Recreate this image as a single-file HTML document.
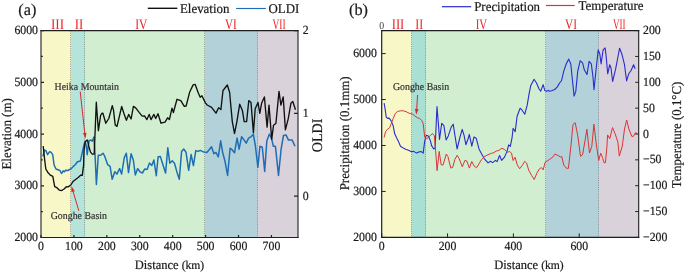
<!DOCTYPE html><html><head><meta charset="utf-8"><style>
html,body{margin:0;padding:0;background:#fff;}
svg{display:block;font-family:"Liberation Serif",serif;will-change:transform;text-rendering:geometricPrecision;}
</style></head><body>
<svg width="685" height="273" viewBox="0 0 685 273">
<rect x="41.0" y="30.6" width="30.00" height="206.9" fill="#f8f7c8"/>
<rect x="71" y="30.6" width="14.00" height="206.9" fill="#b5e5da"/>
<rect x="85" y="30.6" width="120.00" height="206.9" fill="#d1eed0"/>
<rect x="205" y="30.6" width="53.00" height="206.9" fill="#b3d1d9"/>
<rect x="258" y="30.6" width="40.00" height="206.9" fill="#d9d2db"/>
<line x1="70.5" y1="30.6" x2="70.5" y2="237.5" stroke="#8c8c8c" stroke-width="0.9" stroke-dasharray="1,1.2"/>
<line x1="84.5" y1="30.6" x2="84.5" y2="237.5" stroke="#8c8c8c" stroke-width="0.9" stroke-dasharray="1,1.2"/>
<line x1="204.5" y1="30.6" x2="204.5" y2="237.5" stroke="#8c8c8c" stroke-width="0.9" stroke-dasharray="1,1.2"/>
<line x1="257.5" y1="30.6" x2="257.5" y2="237.5" stroke="#8c8c8c" stroke-width="0.9" stroke-dasharray="1,1.2"/>
<rect x="381.7" y="30.6" width="29.80" height="206.8" fill="#f8f7c8"/>
<rect x="411.5" y="30.6" width="14.50" height="206.8" fill="#a8e0d3"/>
<rect x="426" y="30.6" width="120.00" height="206.8" fill="#d1eed0"/>
<rect x="546" y="30.6" width="53.00" height="206.8" fill="#b3d1d9"/>
<rect x="599" y="30.6" width="39.70" height="206.8" fill="#d9d2db"/>
<line x1="411.5" y1="30.6" x2="411.5" y2="237.4" stroke="#8c8c8c" stroke-width="0.9" stroke-dasharray="1,1.2"/>
<line x1="425.5" y1="30.6" x2="425.5" y2="237.4" stroke="#8c8c8c" stroke-width="0.9" stroke-dasharray="1,1.2"/>
<line x1="545.5" y1="30.6" x2="545.5" y2="237.4" stroke="#8c8c8c" stroke-width="0.9" stroke-dasharray="1,1.2"/>
<line x1="598.5" y1="30.6" x2="598.5" y2="237.4" stroke="#8c8c8c" stroke-width="0.9" stroke-dasharray="1,1.2"/>
<polyline points="42.9,156.4 44.5,150.0 45.9,150.6 47.6,154.7 49.4,151.8 51.1,152.3 52.7,154.7 54.1,165.0 56.0,169.0 59.9,170.5 61.5,173.5 63.1,170.9 64.4,171.8 65.6,170.3 67.6,170.5 70.8,169.0 73.3,166.4 75.2,164.7 77.5,161.7 80.4,161.1 82.2,152.9 84.0,144.7 85.1,141.2 86.3,145.9 87.2,154.7 88.1,147.1 89.2,140.6 91.0,140.0 92.2,141.2 93.9,137.1 94.8,149.7 96.4,184.4 98.3,155.2 100.7,155.2 103.0,153.2 104.6,156.0 107.7,164.7 110.1,166.3 112.2,179.3 114.8,171.8 116.9,174.1 119.6,168.6 121.6,174.1 124.3,157.6 126.3,153.2 128.5,172.6 131.1,153.7 133.3,160.0 135.3,174.9 137.7,168.6 140.0,171.8 142.4,173.0 144.8,168.9 147.1,169.4 149.5,163.1 151.8,165.5 153.9,160.0 156.3,175.7 158.1,156.8 160.4,156.6 161.9,161.6 165.6,173.0 167.8,147.8 169.8,163.2 172.2,160.8 174.5,163.2 176.9,171.9 179.3,179.3 181.6,151.4 183.7,149.0 186.0,152.2 188.7,170.3 191.1,154.5 193.4,165.6 195.8,150.6 198.2,151.4 200.2,150.3 202.9,151.7 206.8,152.5 209.2,149.8 211.5,146.7 213.9,153.7 216.0,152.5 218.3,156.9 220.7,140.8 222.6,152.2 225.0,161.3 227.6,175.4 230.1,148.2 232.5,150.2 234.5,152.8 237.1,138.1 239.1,149.2 241.6,136.7 244.2,140.1 246.2,143.1 248.6,138.1 251.2,136.7 253.3,134.1 255.3,145.2 257.9,167.3 259.9,146.2 262.3,147.2 264.7,171.4 266.8,141.1 269.4,134.1 271.4,138.1 273.4,146.2 275.4,146.2 278.5,175.4 281.1,149.2 283.5,135.5 286.1,135.1 288.5,140.1 292.2,140.1 295.0,146.2" fill="none" stroke="#1f6eb5" stroke-width="1.5" stroke-linejoin="round"/>
<polyline points="43.2,146.1 43.8,151.8 44.7,160.0 45.8,169.0 47.7,172.2 50.3,175.1 52.8,176.4 54.7,186.7 56.7,187.6 59.2,190.1 61.8,190.5 64.4,188.8 66.3,186.7 68.2,186.9 70.8,185.0 73.3,181.2 75.9,179.2 78.5,177.3 80.8,175.1 82.3,175.4 83.6,165.1 84.0,150.6 85.1,142.4 86.3,140.6 87.5,140.0 88.7,145.9 90.4,151.8 92.2,154.1 94.2,154.1 96.3,102.2 98.4,130.7 100.6,115.5 101.7,113.5 102.9,113.2 105.8,123.2 108.8,118.5 112.3,105.6 113.5,110.2 115.2,124.9 117.0,126.4 121.7,106.5 124.0,113.8 126.4,120.2 128.7,114.4 129.9,116.7 131.1,119.0 133.4,106.4 135.7,107.9 139.3,112.6 142.2,116.1 144.5,115.9 146.9,119.6 149.2,114.4 151.0,119.6 153.9,114.4 155.7,118.5 158.0,113.8 161.0,123.2 165.0,122.2 167.6,117.8 169.4,119.6 172.0,108.1 173.4,112.5 177.0,99.3 180.8,100.7 184.3,106.4 186.1,106.0 189.6,92.3 193.1,84.9 195.2,84.4 198.4,93.2 200.2,97.2 201.9,95.8 205.4,102.9 207.2,105.0 211.6,107.3 216.0,113.1 218.6,107.8 220.9,109.5 223.0,90.5 225.0,88.0 227.3,85.0 229.6,92.3 232.3,121.6 234.5,133.5 236.9,121.6 239.7,104.2 242.4,110.6 244.2,121.6 246.6,121.6 248.8,100.6 251.0,102.4 253.4,132.6 255.2,108.8 258.0,102.4 259.8,113.4 261.6,103.3 264.4,96.9 267.1,127.1 269.0,105.1 271.7,139.3 273.5,125.3 275.9,123.5 279.0,91.4 280.9,105.1 283.2,96.9 285.4,129.9 288.2,118.9 290.9,103.3 292.8,101.5 295.5,109.7" fill="none" stroke="#111" stroke-width="1.35" stroke-linejoin="round"/>
<polyline points="384.1,103.1 385.1,108.9 386.2,117.0 387.6,118.4 389.1,118.1 391.0,120.6 393.2,125.8 394.7,133.8 396.8,138.2 398.3,141.1 400.5,146.2 403.4,148.1 405.6,149.2 408.6,150.2 411.5,151.8 413.7,151.4 416.6,153.1 418.8,152.1 421.0,151.4 423.2,153.1 424.7,141.1 426.2,135.3 428.4,136.0 430.5,141.1 431.5,145.4 433.7,149.0 435.1,148.3 437.0,106.6 438.8,129.3 439.5,139.5 441.7,123.4 443.9,125.6 446.1,140.0 448.3,135.9 451.2,127.1 453.2,124.2 454.9,135.2 457.1,149.0 460.0,137.0 462.2,129.3 464.0,135.2 465.9,144.7 468.1,138.8 469.3,134.4 471.8,146.1 474.0,137.0 476.2,138.2 479.0,148.9 481.5,153.8 484.4,158.8 488.1,162.9 490.5,161.2 492.7,162.6 495.5,160.4 497.1,161.6 499.6,155.5 501.6,160.4 504.5,157.1 507.0,151.4 508.7,144.8 510.3,146.4 512.0,138.2 513.1,128.3 515.2,131.6 517.1,116.3 520.1,108.2 522.1,110.2 524.8,114.2 527.2,105.2 529.2,93.1 530.8,85.4 534.1,79.3 536.5,83.0 539.0,88.7 540.7,91.2 543.1,84.6 544.8,90.4 546.4,91.2 548.1,90.4 549.7,91.2 552.2,90.4 554.7,89.5 557.1,87.1 559.6,83.0 561.6,80.5 563.7,71.4 566.2,64.0 568.7,59.1 570.8,64.0 572.4,79.7 574.1,96.1 575.8,91.4 577.7,71.4 580.2,60.7 582.7,63.2 584.3,69.8 587.0,74.6 589.1,61.4 591.3,63.9 592.9,76.2 594.0,89.7 595.7,73.0 598.2,49.9 599.8,54.0 601.1,63.9 603.1,49.9 605.1,47.9 606.1,55.7 607.7,73.8 609.7,64.7 611.0,68.0 612.6,81.5 615.5,69.7 618.0,56.5 619.6,48.2 622.1,54.8 624.5,64.7 626.6,80.9 628.7,73.8 631.1,70.5 633.6,64.7 635.2,68.8" fill="none" stroke="#2b2bcc" stroke-width="1.1" stroke-linejoin="round"/>
<polyline points="384.1,137.5 385.6,131.6 387.3,129.4 389.5,127.9 391.0,124.3 393.2,118.4 395.4,113.3 397.6,111.4 400.5,110.8 403.4,110.8 406.4,111.8 409.3,113.3 412.2,114.0 414.4,115.5 417.4,117.7 419.6,118.4 421.8,120.6 423.2,123.6 424.7,137.0 426.2,138.9 428.4,137.5 430.5,135.3 432.5,133.5 434.4,135.9 435.6,150.5 437.1,170.6 439.2,151.4 441.2,164.9 443.1,164.9 446.3,154.0 447.9,156.5 450.8,168.1 452.7,167.4 454.9,159.3 457.2,155.3 459.1,158.5 462.3,166.8 464.9,160.4 466.8,161.0 469.4,168.1 471.8,161.5 474.0,165.9 476.5,167.8 479.0,163.7 481.5,159.6 484.8,156.3 488.1,154.7 491.4,153.3 493.8,152.7 496.3,151.0 498.8,150.5 501.9,148.2 504.9,149.8 507.4,152.3 509.5,151.5 511.5,153.1 513.1,160.5 515.1,157.2 517.2,164.7 519.7,168.8 522.2,165.5 524.7,161.4 526.6,163.0 528.8,170.4 531.6,175.4 534.2,179.5 537.0,172.9 539.5,168.8 541.5,167.6 543.1,169.9 545.2,162.2 549.5,159.5 552.7,157.2 554.8,154.2 556.0,154.4 558.2,155.6 560.5,157.0 561.7,156.3 563.8,165.1 566.3,168.2 568.4,168.4 570.9,146.3 573.0,124.4 575.2,122.7 577.8,135.9 580.5,156.3 582.6,154.7 585.1,140.1 586.9,129.3 589.5,153.0 591.8,146.3 593.9,124.2 596.0,142.1 598.7,160.5 600.7,153.2 602.5,157.6 604.0,162.7 605.4,162.7 606.9,147.3 607.6,134.9 609.8,138.6 612.5,127.6 615.0,133.4 617.9,142.2 619.3,156.1 622.3,145.9 624.5,129.0 626.7,120.0 628.9,129.0 631.8,136.4 633.3,136.4 635.5,132.7 636.9,133.4" fill="none" stroke="#d83535" stroke-width="1.0" stroke-linejoin="round"/>
<path d="M40.45,30.6H298.55" stroke="#1e1e1e" stroke-width="1.2"/>
<path d="M40.45,237.5H298.55" stroke="#1e1e1e" stroke-width="1.1"/>
<path d="M41.0,30.00V238.05" stroke="#1e1e1e" stroke-width="1.1"/>
<path d="M298.0,30.00V238.05" stroke="#1e1e1e" stroke-width="1.1"/>
<path d="M381.10,30.6H639.25" stroke="#1e1e1e" stroke-width="1.2"/>
<path d="M381.10,237.4H639.25" stroke="#1e1e1e" stroke-width="1.1"/>
<path d="M381.7,30.00V237.95" stroke="#1e1e1e" stroke-width="1.2"/>
<path d="M638.7,30.00V237.95" stroke="#1e1e1e" stroke-width="1.1"/>
<path d="M41.0,237.50h3.0 M41.0,211.64h1.8 M41.0,185.78h3.0 M41.0,159.91h1.8 M41.0,134.05h3.0 M41.0,108.19h1.8 M41.0,82.32h3.0 M41.0,56.46h1.8 M41.0,30.60h3.0 M298.0,196.12h-4.0 M298.0,113.36h-4.0 M298.0,30.60h-4.0 M41.00,237.5v-2.6 M73.92,237.5v-2.6 M106.84,237.5v-2.6 M139.76,237.5v-2.6 M172.68,237.5v-2.6 M205.60,237.5v-2.6 M238.52,237.5v-2.6 M271.44,237.5v-2.6" stroke="#222" stroke-width="1.2" fill="none"/>
<path d="M381.7,237.40h4.0 M381.7,191.44h4.0 M381.7,145.49h4.0 M381.7,99.53h4.0 M381.7,53.58h4.0 M638.7,237.40h-3.5 M638.7,211.55h-3.5 M638.7,185.70h-3.5 M638.7,159.85h-3.5 M638.7,134.00h-3.5 M638.7,108.15h-3.5 M638.7,82.30h-3.5 M638.7,56.45h-3.5 M638.7,30.60h-3.5 M381.70,237.4v-4.0 M447.54,237.4v-4.0 M513.38,237.4v-4.0 M579.22,237.4v-4.0" stroke="#222" stroke-width="1.0" fill="none"/>
<text transform="translate(38.00,241.10) scale(1,1.06)" font-size="11.8" text-anchor="end" fill="#1a1a1a" stroke="#1a1a1a" stroke-width="0.2" >2000</text>
<text transform="translate(38.00,189.38) scale(1,1.06)" font-size="11.8" text-anchor="end" fill="#1a1a1a" stroke="#1a1a1a" stroke-width="0.2" >3000</text>
<text transform="translate(38.00,137.65) scale(1,1.06)" font-size="11.8" text-anchor="end" fill="#1a1a1a" stroke="#1a1a1a" stroke-width="0.2" >4000</text>
<text transform="translate(38.00,85.92) scale(1,1.06)" font-size="11.8" text-anchor="end" fill="#1a1a1a" stroke="#1a1a1a" stroke-width="0.2" >5000</text>
<text transform="translate(38.00,34.20) scale(1,1.06)" font-size="11.8" text-anchor="end" fill="#1a1a1a" stroke="#1a1a1a" stroke-width="0.2" >6000</text>
<text transform="translate(302.80,199.72) scale(1,1.06)" font-size="11.8" text-anchor="start" fill="#1a1a1a" stroke="#1a1a1a" stroke-width="0.2" >0</text>
<text transform="translate(302.80,116.96) scale(1,1.06)" font-size="11.8" text-anchor="start" fill="#1a1a1a" stroke="#1a1a1a" stroke-width="0.2" >1</text>
<text transform="translate(302.80,34.20) scale(1,1.06)" font-size="11.8" text-anchor="start" fill="#1a1a1a" stroke="#1a1a1a" stroke-width="0.2" >2</text>
<text transform="translate(41.00,250.20) scale(1,1.06)" font-size="11.8" text-anchor="middle" fill="#1a1a1a" stroke="#1a1a1a" stroke-width="0.2" >0</text>
<text transform="translate(73.92,250.20) scale(1,1.06)" font-size="11.8" text-anchor="middle" fill="#1a1a1a" stroke="#1a1a1a" stroke-width="0.2" >100</text>
<text transform="translate(106.84,250.20) scale(1,1.06)" font-size="11.8" text-anchor="middle" fill="#1a1a1a" stroke="#1a1a1a" stroke-width="0.2" >200</text>
<text transform="translate(139.76,250.20) scale(1,1.06)" font-size="11.8" text-anchor="middle" fill="#1a1a1a" stroke="#1a1a1a" stroke-width="0.2" >300</text>
<text transform="translate(172.68,250.20) scale(1,1.06)" font-size="11.8" text-anchor="middle" fill="#1a1a1a" stroke="#1a1a1a" stroke-width="0.2" >400</text>
<text transform="translate(205.60,250.20) scale(1,1.06)" font-size="11.8" text-anchor="middle" fill="#1a1a1a" stroke="#1a1a1a" stroke-width="0.2" >500</text>
<text transform="translate(238.52,250.20) scale(1,1.06)" font-size="11.8" text-anchor="middle" fill="#1a1a1a" stroke="#1a1a1a" stroke-width="0.2" >600</text>
<text transform="translate(271.44,250.20) scale(1,1.06)" font-size="11.8" text-anchor="middle" fill="#1a1a1a" stroke="#1a1a1a" stroke-width="0.2" >700</text>
<text transform="translate(376.80,241.00) scale(1,1.06)" font-size="11.8" text-anchor="end" fill="#1a1a1a" stroke="#1a1a1a" stroke-width="0.2" >2000</text>
<text transform="translate(376.80,195.04) scale(1,1.06)" font-size="11.8" text-anchor="end" fill="#1a1a1a" stroke="#1a1a1a" stroke-width="0.2" >3000</text>
<text transform="translate(376.80,149.09) scale(1,1.06)" font-size="11.8" text-anchor="end" fill="#1a1a1a" stroke="#1a1a1a" stroke-width="0.2" >4000</text>
<text transform="translate(376.80,103.13) scale(1,1.06)" font-size="11.8" text-anchor="end" fill="#1a1a1a" stroke="#1a1a1a" stroke-width="0.2" >5000</text>
<text transform="translate(376.80,57.18) scale(1,1.06)" font-size="11.8" text-anchor="end" fill="#1a1a1a" stroke="#1a1a1a" stroke-width="0.2" >6000</text>
<text transform="translate(643.00,241.00) scale(1,1.06)" font-size="11.8" text-anchor="start" fill="#1a1a1a" stroke="#1a1a1a" stroke-width="0.2" >−200</text>
<text transform="translate(643.00,215.15) scale(1,1.06)" font-size="11.8" text-anchor="start" fill="#1a1a1a" stroke="#1a1a1a" stroke-width="0.2" >−150</text>
<text transform="translate(643.00,189.30) scale(1,1.06)" font-size="11.8" text-anchor="start" fill="#1a1a1a" stroke="#1a1a1a" stroke-width="0.2" >−100</text>
<text transform="translate(643.00,163.45) scale(1,1.06)" font-size="11.8" text-anchor="start" fill="#1a1a1a" stroke="#1a1a1a" stroke-width="0.2" >−50</text>
<text transform="translate(643.00,137.60) scale(1,1.06)" font-size="11.8" text-anchor="start" fill="#1a1a1a" stroke="#1a1a1a" stroke-width="0.2" >0</text>
<text transform="translate(643.00,111.75) scale(1,1.06)" font-size="11.8" text-anchor="start" fill="#1a1a1a" stroke="#1a1a1a" stroke-width="0.2" >50</text>
<text transform="translate(643.00,85.90) scale(1,1.06)" font-size="11.8" text-anchor="start" fill="#1a1a1a" stroke="#1a1a1a" stroke-width="0.2" >100</text>
<text transform="translate(643.00,60.05) scale(1,1.06)" font-size="11.8" text-anchor="start" fill="#1a1a1a" stroke="#1a1a1a" stroke-width="0.2" >150</text>
<text transform="translate(643.00,34.20) scale(1,1.06)" font-size="11.8" text-anchor="start" fill="#1a1a1a" stroke="#1a1a1a" stroke-width="0.2" >200</text>
<text transform="translate(381.70,250.20) scale(1,1.06)" font-size="11.8" text-anchor="middle" fill="#1a1a1a" stroke="#1a1a1a" stroke-width="0.2" >0</text>
<text transform="translate(447.54,250.20) scale(1,1.06)" font-size="11.8" text-anchor="middle" fill="#1a1a1a" stroke="#1a1a1a" stroke-width="0.2" >200</text>
<text transform="translate(513.38,250.20) scale(1,1.06)" font-size="11.8" text-anchor="middle" fill="#1a1a1a" stroke="#1a1a1a" stroke-width="0.2" >400</text>
<text transform="translate(579.22,250.20) scale(1,1.06)" font-size="11.8" text-anchor="middle" fill="#1a1a1a" stroke="#1a1a1a" stroke-width="0.2" >600</text>
<text transform="translate(169.50,268.70) scale(1,1.04)" font-size="12.5" text-anchor="middle" fill="#1a1a1a" stroke="#1a1a1a" stroke-width="0.2" >Distance <tspan font-size="11.6">(km)</tspan></text>
<text transform="translate(529.00,268.70) scale(1,1.04)" font-size="12.5" text-anchor="middle" fill="#1a1a1a" stroke="#1a1a1a" stroke-width="0.2" >Distance <tspan font-size="11.6">(km)</tspan></text>
<text transform="translate(11.00,133.90) rotate(-90) scale(1,1.04)" font-size="12.9" text-anchor="middle" fill="#1a1a1a" stroke="#1a1a1a" stroke-width="0.2" >Elevation (m)</text>
<text transform="translate(322.30,135.40) rotate(-90) scale(1,1.04)" font-size="14.1" text-anchor="middle" fill="#1a1a1a" stroke="#1a1a1a" stroke-width="0.2" >OLDI</text>
<text transform="translate(349.00,133.40) rotate(-90) scale(1,1.04)" font-size="12.9" text-anchor="middle" fill="#1a1a1a" stroke="#1a1a1a" stroke-width="0.2" >Precipitation (0.1mm)</text>
<text transform="translate(681.20,134.90) rotate(-90) scale(1,1.04)" font-size="12.9" text-anchor="middle" fill="#1a1a1a" stroke="#1a1a1a" stroke-width="0.2" >Temperature (0.1°C)</text>
<text transform="translate(18.30,14.50) scale(1,1.0)" font-size="16.3" text-anchor="start" fill="#1a1a1a" stroke="#1a1a1a" stroke-width="0.2" >(a)</text>
<text transform="translate(349.00,14.50) scale(1,1.0)" font-size="16.3" text-anchor="start" fill="#1a1a1a" stroke="#1a1a1a" stroke-width="0.2" >(b)</text>
<text transform="translate(381.6,28.6) scale(1,1.08)" font-size="9.8" text-anchor="middle" fill="#3a3a3a">0</text>
<line x1="147.8" y1="8.3" x2="177.3" y2="8.3" stroke="#111" stroke-width="1.4"/>
<text transform="translate(180.00,12.60) scale(1,1.04)" font-size="12.9" text-anchor="start" fill="#1a1a1a" stroke="#1a1a1a" stroke-width="0.2" >Elevation</text>
<line x1="236.1" y1="8.5" x2="265.8" y2="8.5" stroke="#1f6eb5" stroke-width="1.15"/>
<text transform="translate(268.50,12.60) scale(1,1.04)" font-size="12.9" text-anchor="start" fill="#1a1a1a" stroke="#1a1a1a" stroke-width="0.2" >OLDI</text>
<line x1="442" y1="6.7" x2="471.2" y2="6.7" stroke="#2b2bcc" stroke-width="1.2"/>
<text transform="translate(474.20,11.00) scale(1,1.04)" font-size="12.9" text-anchor="start" fill="#1a1a1a" stroke="#1a1a1a" stroke-width="0.2" >Precipitation</text>
<line x1="546" y1="5.5" x2="574.7" y2="5.5" stroke="#d83535" stroke-width="1.2"/>
<text transform="translate(578.50,10.20) scale(1,1.04)" font-size="12.9" text-anchor="start" fill="#1a1a1a" stroke="#1a1a1a" stroke-width="0.2" >Temperature</text>
<text x="50.95" y="28.7" font-size="14.6" fill="#ee2222" textLength="13.20" lengthAdjust="spacingAndGlyphs">III</text>
<text x="74.65" y="28.7" font-size="14.6" fill="#ee2222" textLength="8.50" lengthAdjust="spacingAndGlyphs">II</text>
<text x="135.25" y="28.7" font-size="14.6" fill="#ee2222" textLength="12.20" lengthAdjust="spacingAndGlyphs">IV</text>
<text x="224.95" y="28.7" font-size="14.6" fill="#ee2222" textLength="11.80" lengthAdjust="spacingAndGlyphs">VI</text>
<text x="272.45" y="28.7" font-size="14.6" fill="#ee2222" textLength="13.10" lengthAdjust="spacingAndGlyphs">VII</text>
<text x="391.75" y="28.7" font-size="14.6" fill="#ee2222" textLength="12.50" lengthAdjust="spacingAndGlyphs">III</text>
<text x="415.25" y="28.7" font-size="14.6" fill="#ee2222" textLength="7.90" lengthAdjust="spacingAndGlyphs">II</text>
<text x="475.65" y="28.7" font-size="14.6" fill="#ee2222" textLength="11.50" lengthAdjust="spacingAndGlyphs">IV</text>
<text x="564.95" y="28.7" font-size="14.6" fill="#ee2222" textLength="12.00" lengthAdjust="spacingAndGlyphs">VI</text>
<text x="612.95" y="28.7" font-size="14.6" fill="#ee2222" textLength="12.60" lengthAdjust="spacingAndGlyphs">VII</text>
<text transform="translate(54.60,90.20) scale(1,1.06)" font-size="9.9" text-anchor="start" fill="#333" stroke="#333" stroke-width="0.2" >Heika Mountain</text>
<text transform="translate(50.70,219.00) scale(1,1.06)" font-size="9.9" text-anchor="start" fill="#333" stroke="#333" stroke-width="0.2" >Gonghe Basin</text>
<text transform="translate(392.90,90.20) scale(1,1.06)" font-size="9.9" text-anchor="start" fill="#333" stroke="#333" stroke-width="0.2" >Gonghe Basin</text>
<line x1="80.2" y1="91.5" x2="84.74" y2="132.84" stroke="#d42a2a" stroke-width="1.0"/><polygon points="85.4,138.8 82.96,133.03 86.53,132.64" fill="#d42a2a"/>
<line x1="78.9" y1="210.8" x2="73.14" y2="191.74" stroke="#d42a2a" stroke-width="1.0"/><polygon points="71.4,186.0 74.86,191.22 71.41,192.26" fill="#d42a2a"/>
<line x1="417.6" y1="94.9" x2="416.69" y2="108.81" stroke="#d42a2a" stroke-width="1.0"/><polygon points="416.3,114.8 414.89,108.70 418.49,108.93" fill="#d42a2a"/>
</svg></body></html>
